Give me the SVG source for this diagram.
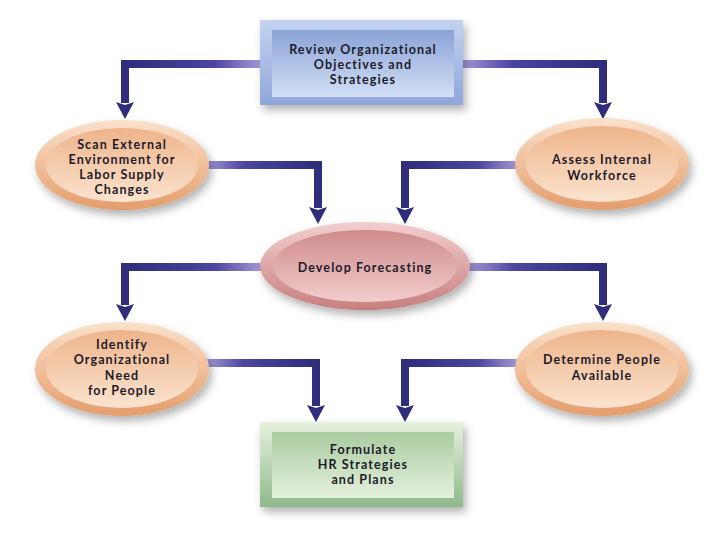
<svg xmlns="http://www.w3.org/2000/svg" width="720" height="540" viewBox="0 0 720 540">
<style>
text{font-family:Lato,"Open Sans","Liberation Sans",sans-serif;font-weight:bold;font-size:12.5px;letter-spacing:1.1px;fill:#1d1b2a;text-anchor:middle}
.conn{fill:none;stroke-width:8;stroke-linejoin:miter;marker-end:url(#ah)}
</style>
<defs>
<filter id="sh" x="-20%" y="-20%" width="150%" height="160%">
<feDropShadow dx="3" dy="5" stdDeviation="4" flood-color="#000" flood-opacity="0.3"/>
</filter>
<marker id="ah" markerUnits="userSpaceOnUse" markerWidth="20" markerHeight="22" viewBox="0 -11 18 22" refX="1" refY="0" orient="auto">
<path d="M0,-9 L17,0 L0,9 L3,0 z" fill="#2f2d7c"/>
</marker>
<linearGradient id="gL" x1="1" y1="0" x2="0" y2="0">
<stop offset="0" stop-color="#a79ad8"/><stop offset="0.35" stop-color="#4a45a0"/><stop offset="1" stop-color="#2f2d7c"/>
</linearGradient>
<linearGradient id="gR" x1="0" y1="0" x2="1" y2="0">
<stop offset="0" stop-color="#a79ad8"/><stop offset="0.35" stop-color="#4a45a0"/><stop offset="1" stop-color="#2f2d7c"/>
</linearGradient>
<linearGradient id="blueOut" x1="0" y1="0" x2="0" y2="1">
<stop offset="0" stop-color="#c3d3f0"/><stop offset="1" stop-color="#8fa6d9"/>
</linearGradient>
<linearGradient id="blueIn" x1="0" y1="0" x2="0" y2="1">
<stop offset="0" stop-color="#8aa2d6"/><stop offset="1" stop-color="#d2e0f5"/>
</linearGradient>
<linearGradient id="greenOut" x1="0" y1="0" x2="0" y2="1">
<stop offset="0" stop-color="#e6f2df"/><stop offset="1" stop-color="#8fb98a"/>
</linearGradient>
<linearGradient id="greenIn" x1="0" y1="0" x2="0" y2="1">
<stop offset="0" stop-color="#a9cca0"/><stop offset="1" stop-color="#e4f1dc"/>
</linearGradient>
<linearGradient id="peachOut" x1="0" y1="0" x2="0" y2="1">
<stop offset="0" stop-color="#fbe1cb"/><stop offset="1" stop-color="#e49d6c"/>
</linearGradient>
<linearGradient id="peachIn" x1="0" y1="0" x2="0" y2="1">
<stop offset="0" stop-color="#eeb48a"/><stop offset="1" stop-color="#fbe3cf"/>
</linearGradient>
<linearGradient id="pinkOut" x1="0" y1="0" x2="0" y2="1">
<stop offset="0" stop-color="#f3cfcf"/><stop offset="1" stop-color="#c77f7f"/>
</linearGradient>
<linearGradient id="pinkIn" x1="0" y1="0" x2="0" y2="1">
<stop offset="0" stop-color="#cf8b8b"/><stop offset="1" stop-color="#f2cccc"/>
</linearGradient>
</defs>
<rect width="720" height="540" fill="#fff"/>

<g id="connectors">
<path class="conn" stroke="url(#gL)" d="M262,64 L125,64 L125,103"/>
<path class="conn" stroke="url(#gR)" d="M462,64 L603,64 L603,103"/>
<path class="conn" stroke="url(#gR)" d="M205,165 L318,165 L318,208"/>
<path class="conn" stroke="url(#gL)" d="M518,165 L405,165 L405,208"/>
<path class="conn" stroke="url(#gL)" d="M262,267 L125,267 L125,305"/>
<path class="conn" stroke="url(#gR)" d="M468,267 L603,267 L603,305"/>
<path class="conn" stroke="url(#gR)" d="M205,363 L316,363 L316,406"/>
<path class="conn" stroke="url(#gL)" d="M518,363 L405,363 L405,406"/>
</g>

<g id="review">
<rect x="260" y="20" width="203" height="85" fill="url(#blueOut)" filter="url(#sh)"/>
<rect x="272" y="30" width="182" height="67" fill="url(#blueIn)"/>
<text x="363" y="54">Review Organizational</text>
<text x="363" y="69">Objectives and</text>
<text x="363" y="84">Strategies</text>
</g>

<g id="scan">
<ellipse cx="122" cy="165" rx="87" ry="45" fill="url(#peachOut)" filter="url(#sh)"/>
<ellipse cx="122" cy="165" rx="76" ry="37" fill="url(#peachIn)"/>
<text x="122" y="149">Scan External</text>
<text x="122" y="164">Environment for</text>
<text x="122" y="179">Labor Supply</text>
<text x="122" y="194">Changes</text>
</g>

<g id="assess">
<ellipse cx="602" cy="164" rx="87" ry="46" fill="url(#peachOut)" filter="url(#sh)"/>
<ellipse cx="602" cy="164" rx="76" ry="38" fill="url(#peachIn)"/>
<text x="602" y="164">Assess Internal</text>
<text x="602" y="180">Workforce</text>
</g>

<g id="develop">
<ellipse cx="365" cy="266" rx="105" ry="44" fill="url(#pinkOut)" filter="url(#sh)"/>
<ellipse cx="365" cy="266" rx="92" ry="36" fill="url(#pinkIn)"/>
<text x="365" y="272">Develop Forecasting</text>
</g>

<g id="identify">
<ellipse cx="122" cy="369" rx="87" ry="47" fill="url(#peachOut)" filter="url(#sh)"/>
<ellipse cx="122" cy="369" rx="76" ry="39" fill="url(#peachIn)"/>
<text x="122" y="349">Identify</text>
<text x="122" y="364">Organizational</text>
<text x="122" y="380">Need</text>
<text x="122" y="395">for People</text>
</g>

<g id="determine">
<ellipse cx="602" cy="369" rx="87" ry="47" fill="url(#peachOut)" filter="url(#sh)"/>
<ellipse cx="602" cy="369" rx="76" ry="39" fill="url(#peachIn)"/>
<text x="602" y="364">Determine People</text>
<text x="602" y="380">Available</text>
</g>

<g id="formulate">
<rect x="260" y="422" width="203" height="85" fill="url(#greenOut)" filter="url(#sh)"/>
<rect x="272" y="432" width="182" height="66" fill="url(#greenIn)"/>
<text x="363" y="454">Formulate</text>
<text x="363" y="469">HR Strategies</text>
<text x="363" y="484">and Plans</text>
</g>
</svg>
